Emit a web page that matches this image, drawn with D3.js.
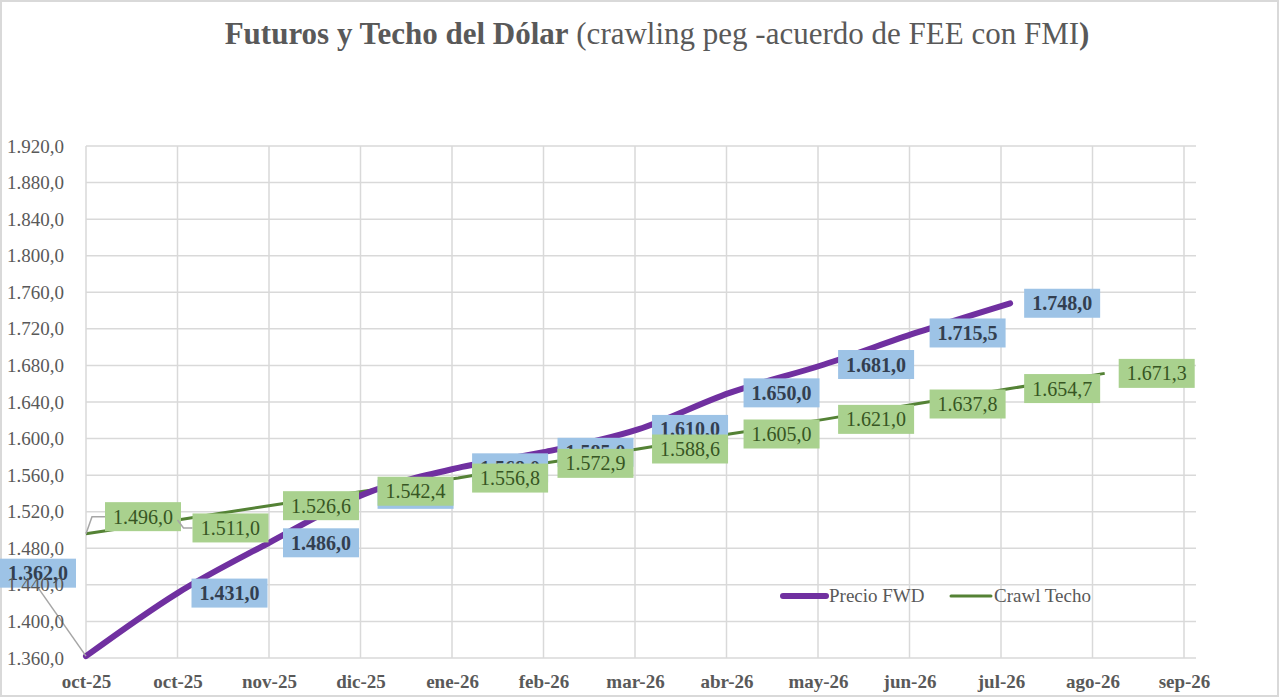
<!DOCTYPE html>
<html>
<head>
<meta charset="utf-8">
<script src="https://cdn.jsdelivr.net/npm/d3@7"></script>
<style>
  html, body { margin: 0; padding: 0; background: #fff; }
  svg { display: block; font-family: "Liberation Serif", "DejaVu Serif", serif; }
</style>
</head>
<body>
<svg id="chart" width="1280" height="698"></svg>
<script>
// dates of each point (month ends)
var fwd_dates = ["2025-10-01","2025-10-31","2025-11-30","2025-12-31","2026-01-31","2026-02-28",
                 "2026-03-31","2026-04-30","2026-05-31","2026-06-30","2026-07-31"];
var fwd_values = [1362.0, 1431.0, 1486.0, 1539.0, 1568.0, 1585.0, 1610.0, 1650.0, 1681.0, 1715.5, 1748.0];

var techo_dates = ["2025-10-01","2025-10-31","2025-11-30","2025-12-31","2026-01-31","2026-02-28",
                   "2026-03-31","2026-04-30","2026-05-31","2026-06-30","2026-07-31","2026-08-31"];
var techo_values = [1496.0, 1511.0, 1526.6, 1542.4, 1556.8, 1572.9, 1588.6, 1605.0, 1621.0, 1637.8, 1654.7, 1671.3];

// excel date axis: a tick every 30 days from oct 1st
var tick_labels = ["oct-25","oct-25","nov-25","dic-25","ene-26","feb-26","mar-26",
                   "abr-26","may-26","jun-26","jul-26","ago-26","sep-26"];
var y_ticks = [1360, 1400, 1440, 1480, 1520, 1560, 1600, 1640, 1680, 1720, 1760, 1800, 1840, 1880, 1920];

var series_names = ["Precio FWD", "Crawl Techo"];

var svg = d3.select("#chart");
var W = 1280, H = 698;
var plot = {left: 86, right: 1184, top: 146, bottom: 658};

var parse = d3.utcParse("%Y-%m-%d");
var start = parse("2025-10-01");
var tick_dates = tick_labels.map((t, i) => d3.utcDay.offset(start, i * 30));

var x = d3.scaleUtc().domain([start, tick_dates[tick_dates.length - 1]]).range([plot.left, plot.right]);
var y = d3.scaleLinear().domain([1360, 1920]).range([plot.bottom, plot.top]);

var es = d3.formatLocale({decimal: ",", thousands: ".", grouping: [3], currency: ["$", ""]});
var fmt = es.format(",.1f");

var fwd = fwd_dates.map((d, i) => ({date: parse(d), value: fwd_values[i]}));
var techo = techo_dates.map((d, i) => ({date: parse(d), value: techo_values[i]}));

// outer frame
svg.append("rect")
    .attr("x", 1).attr("y", 1).attr("width", W - 3).attr("height", H - 3)
    .attr("fill", "#fff").attr("stroke", "#d9d9d9").attr("stroke-width", 2);

// title
var title = svg.append("text")
    .attr("x", 657).attr("y", 44)
    .attr("text-anchor", "middle")
    .attr("fill", "#595959")
    .style("font-size", "31px");
title.append("tspan").attr("font-weight", "bold").text("Futuros y Techo del Dólar");
title.append("tspan").text(" (crawling peg -acuerdo de FEE con FMI");
title.append("tspan").attr("font-weight", "bold").text(")");

// gridlines
svg.append("g").selectAll("line").data(y_ticks)
    .enter().append("line")
    .attr("x1", plot.left).attr("x2", plot.right + 12)
    .attr("y1", d => y(d)).attr("y2", d => y(d))
    .attr("stroke", "#d9d9d9").attr("stroke-width", 1.5);

svg.append("g").selectAll("line").data(tick_dates)
    .enter().append("line")
    .attr("x1", d => x(d)).attr("x2", d => x(d))
    .attr("y1", plot.top).attr("y2", plot.bottom)
    .attr("stroke", "#d9d9d9").attr("stroke-width", 1.5);

// x axis labels
var xAxis = d3.axisBottom(x)
    .tickValues(tick_dates)
    .tickSize(0)
    .tickPadding(0)
    .tickFormat((d, i) => tick_labels[i]);
var gx = svg.append("g").attr("transform", `translate(0,${plot.bottom})`).call(xAxis);
gx.select(".domain").remove();
gx.selectAll("text")
    .attr("y", 30)
    .attr("dy", 0)
    .attr("fill", "#595959")
    .attr("font-weight", "bold")
    .style("font-size", "19px")
    .style("font-family", "'Liberation Serif', serif");

// lines
var techoLine = d3.line().x(d => x(d.date)).y(d => y(d.value));
var fwdLine = d3.line().x(d => x(d.date)).y(d => y(d.value)).curve(d3.curveMonotoneX);

svg.append("path").datum(techo)
    .attr("d", techoLine)
    .attr("fill", "none").attr("stroke", "#548235").attr("stroke-width", 3);

svg.append("path").datum(fwd)
    .attr("d", fwdLine)
    .attr("fill", "none").attr("stroke", "#7030a0").attr("stroke-width", 6)
    .attr("stroke-linecap", "round");

// data labels, offsets from each point (dx to box left, dy to box center)
var fwd_offsets = {0: [-86, -83]};
var techo_offsets = {0: [19, -17], 1: [15, 8]};

function draw_labels(data, offsets, cls, fill, color, weight){
    var g = svg.append("g").attr("class", cls);
    data.forEach((d, i) => {
        var px = x(d.date), py = y(d.value);
        var off = offsets[i] || [14, 0];
        var bx = px + off[0], cy = py + off[1];
        var w = 76, h = 29;
        if(offsets[i]){
            // leader line from point to label
            var lx = off[0] < 0 ? bx + w / 2 : bx;
            var ly = off[0] < 0 ? cy + h / 2 : cy;
            g.append("polyline")
                .attr("points", off[0] < 0
                    ? `${px},${py} ${lx},${ly}`
                    : `${px},${py} ${px + 6},${ly} ${lx},${ly}`)
                .attr("fill", "none").attr("stroke", "#a6a6a6").attr("stroke-width", 1.5);
        }
        g.append("rect")
            .attr("x", bx).attr("y", cy - h / 2)
            .attr("width", w).attr("height", h)
            .attr("fill", fill);
        g.append("text")
            .attr("x", bx + w / 2).attr("y", cy + 7)
            .attr("text-anchor", "middle")
            .attr("fill", color)
            .attr("font-weight", weight)
            .style("font-size", "20px")
            .text(fmt(d.value));
    });
}
draw_labels(fwd, fwd_offsets, "fwd-labels", "#9dc3e6", "#333f50", "bold");
draw_labels(techo, techo_offsets, "techo-labels", "#a9d18e", "#375623", "normal");

// y axis labels (drawn last, they show over the first label)
var yAxis = d3.axisLeft(y)
    .tickValues(y_ticks)
    .tickSize(0)
    .tickPadding(0)
    .tickFormat(d => fmt(d));
var gy = svg.append("g").attr("transform", `translate(64,0)`).call(yAxis);
gy.select(".domain").remove();
gy.selectAll("text")
    .attr("fill", "#595959")
    .style("font-size", "19px")
    .style("font-family", "'Liberation Serif', serif");

// legend
var legend = svg.append("g").attr("transform", "translate(783,596)");
var legend_styles = [
    {color: "#7030a0", width: 6, x: 0, len: 43},
    {color: "#548235", width: 3, x: 168, len: 40}
];
series_names.forEach((name, i) => {
    var s = legend_styles[i];
    legend.append("line")
        .attr("x1", s.x).attr("x2", s.x + s.len)
        .attr("y1", 0).attr("y2", 0)
        .attr("stroke", s.color).attr("stroke-width", s.width)
        .attr("stroke-linecap", "round");
    legend.append("text")
        .attr("x", s.x + s.len + 3).attr("y", 6)
        .attr("fill", "#595959")
        .style("font-size", "19px")
        .text(name);
});
</script>
</body>
</html>
